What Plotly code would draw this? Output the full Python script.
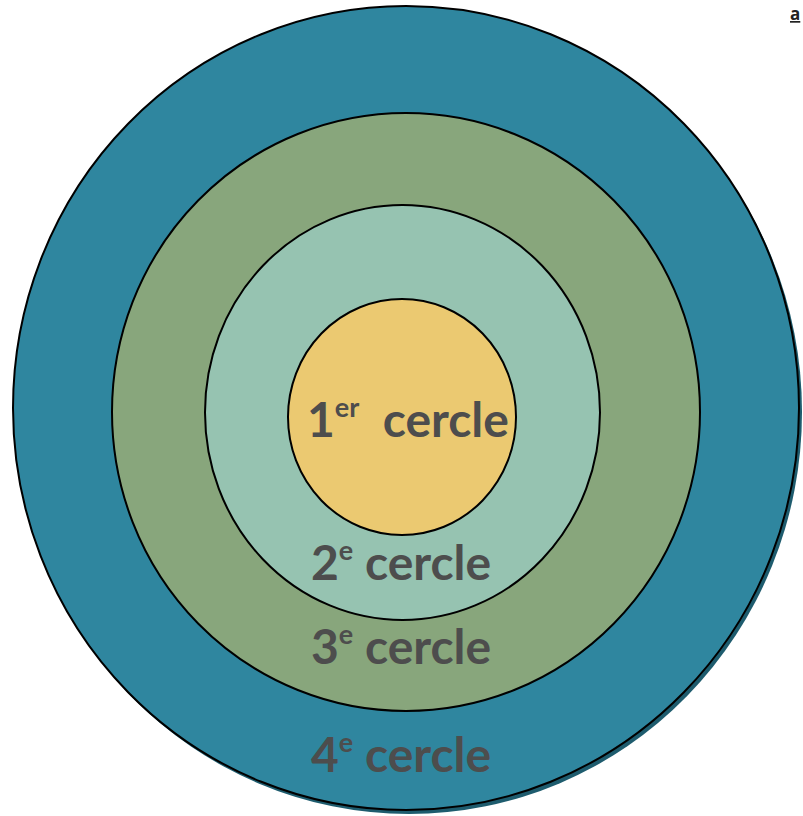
import plotly.graph_objects as go

# Data
labels = ["1<sup><span style='font-size:27px'>er</span></sup>  cercle",
          "2<sup><span style='font-size:27px'>e</span></sup> cercle",
          "3<sup><span style='font-size:27px'>e</span></sup> cercle",
          "4<sup><span style='font-size:27px'>e</span></sup> cercle"]
label_x = [408, 401, 401, 401]
label_y = [418, 561, 645, 753]
# ellipses: (cx, cy, rx, ry), outer to inner
circle_cx = [406, 406, 402.5, 402]
circle_cy = [408, 412, 412.5, 417]
circle_rx = [393, 294, 197.5, 114]
circle_ry = [402, 299, 207.5, 118]
circle_colors = ["#2F869F", "#88A67C", "#96C3B1", "#EBC971"]

W, H = 803, 816
fig = go.Figure()
fig.add_trace(go.Scatter(x=[0, W], y=[0, H], mode="markers", marker=dict(opacity=0), hoverinfo="skip", showlegend=False))

shapes = []
# shadow of outer circle
shapes.append(dict(type="circle", xref="x", yref="y",
                   x0=circle_cx[0] - circle_rx[0] + 3, x1=circle_cx[0] + circle_rx[0] + 3,
                   y0=circle_cy[0] - circle_ry[0] + 4, y1=circle_cy[0] + circle_ry[0] + 4,
                   fillcolor="#1E5C6E", line=dict(width=0), layer="below"))
for cx, cy, rx, ry, col in zip(circle_cx, circle_cy, circle_rx, circle_ry, circle_colors):
    shapes.append(dict(type="circle", xref="x", yref="y",
                       x0=cx - rx, x1=cx + rx, y0=cy - ry, y1=cy + ry,
                       fillcolor=col, line=dict(color="black", width=2), layer="below"))

annotations = []
for t, x, y in zip(labels, label_x, label_y):
    annotations.append(dict(x=x, y=y, xref="x", yref="y", text=t, showarrow=False,
                            xanchor="center", yanchor="middle",
                            font=dict(family="Lato", size=48, color="#4D4D4D", weight=700)))
annotations.append(dict(x=802, y=0, xref="x", yref="y", text="<u>a</u>", showarrow=False,
                        xanchor="right", yanchor="top",
                        font=dict(family="Open Sans", size=17, color="#222222", weight=700)))

fig.update_layout(
    width=W, height=H, margin=dict(l=0, r=0, t=0, b=0),
    paper_bgcolor="white", plot_bgcolor="white",
    xaxis=dict(range=[0, W], visible=False, fixedrange=True),
    yaxis=dict(range=[H, 0], visible=False, fixedrange=True),
    shapes=shapes, annotations=annotations, showlegend=False,
)
fig.write_html("out.html", config={"displayModeBar": False},
               post_script="document.body.style.margin='0';document.body.style.overflow='hidden';")
